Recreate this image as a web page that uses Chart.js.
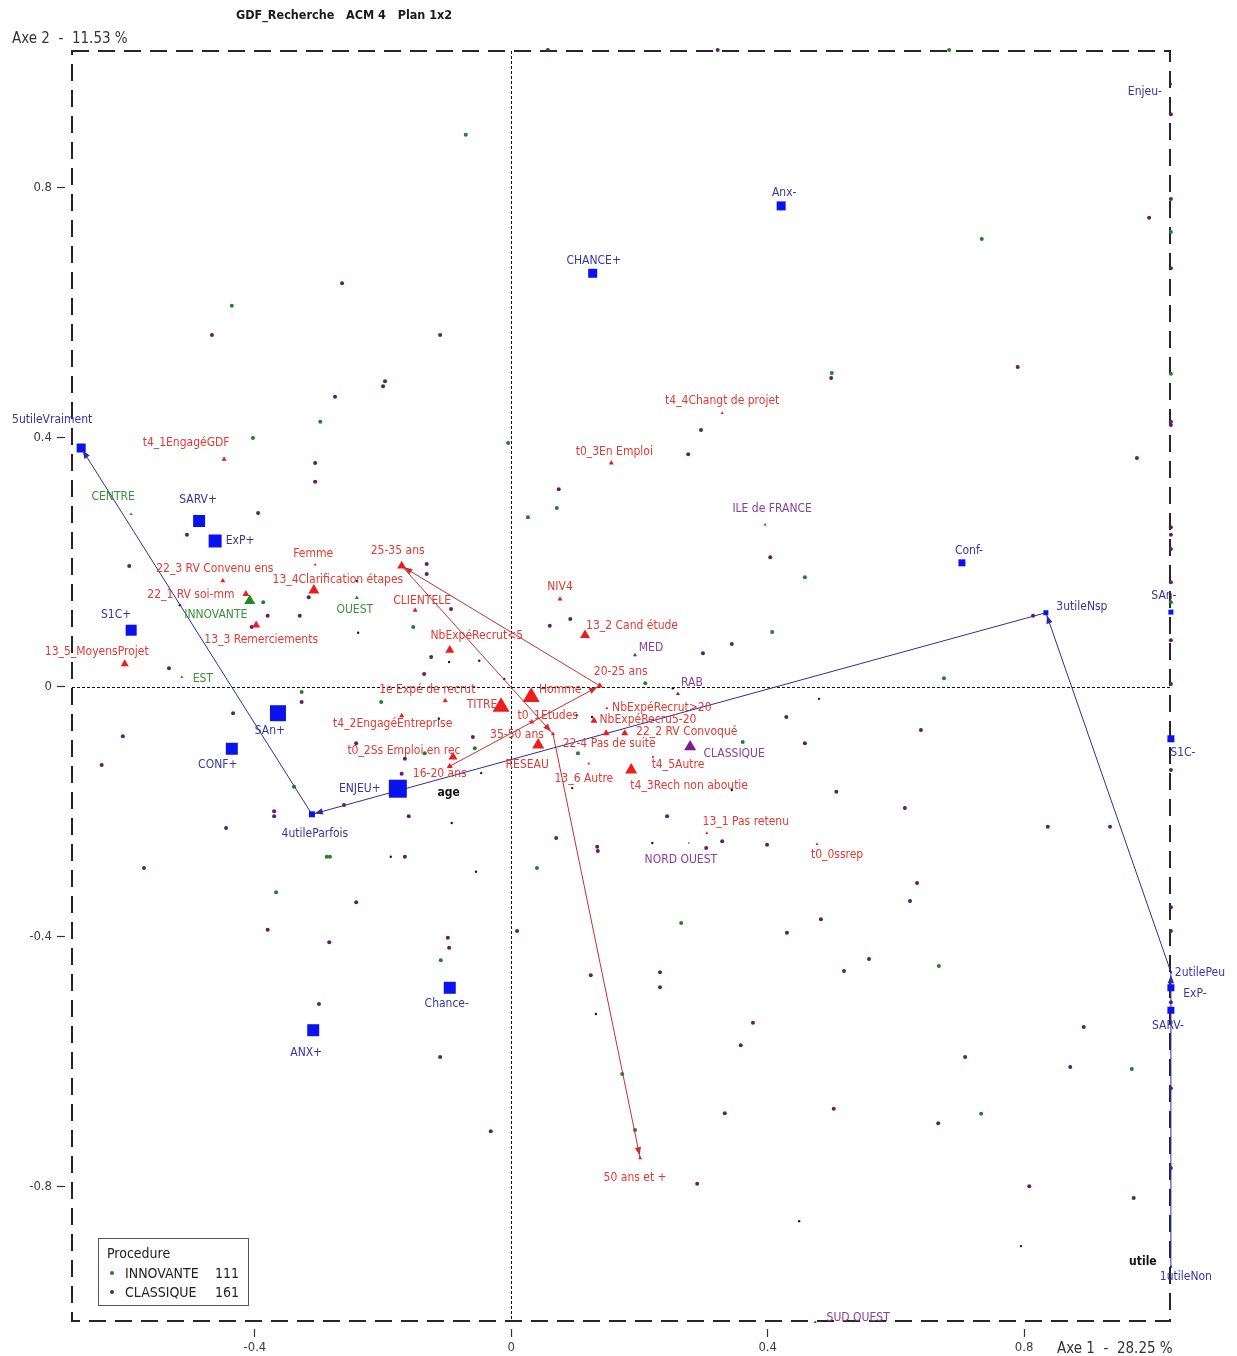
<!DOCTYPE html>
<html><head><meta charset="utf-8">
<script src="https://cdn.jsdelivr.net/npm/chart.js@4.4.1/dist/chart.umd.min.js"></script>
<style>html,body{margin:0;padding:0;background:#fff}#wrap{width:1237px;height:1356px;position:relative}</style>
</head><body><div id="wrap"><canvas id="c"></canvas></div>
<script>
// ---------- DATA ----------
const chartTitle = 'GDF_Recherche   ACM 4   Plan 1x2';
const xAxisName = 'Axe 1  -  28.25 %';
const yAxisName = 'Axe 2  -  11.53 %';
const xTicks = [-0.4, 0, 0.4, 0.8];
const yTicks = [-0.8, -0.4, 0, 0.4, 0.8];
const xRange = [-0.6853, 1.0276];
const yRange = [-1.016, 1.0192];

const legendTitle = 'Procedure';
const legendNames = ['INNOVANTE', 'CLASSIQUE'];
const legendCounts = [111, 161];

// individuals (Axe 1, Axe 2) — points beyond the frame are shown on its edge
const innovante = [
[-0.436,0.611],[-0.298,0.425],[-0.403,0.399],[-0.071,0.885],[-0.005,0.391],[0.683,1.021],[0.734,0.718],[1.029,0.729],[0.500,0.503],[1.029,0.502],
[-0.387,0.136],[-0.153,0.096],[-0.327,-0.008],[-0.203,-0.024],[-0.339,-0.160],[-0.288,-0.272],[-0.283,-0.272],[-0.367,-0.329],[0.071,0.287],[0.026,0.272],
[0.458,0.176],[0.407,0.088],[0.209,0.006],[0.361,-0.088],[-0.057,-0.098],[-0.135,-0.106],[0.104,-0.106],[0.040,-0.290],[1.029,0.136],[0.675,0.014],
[-0.110,-0.438],[0.265,-0.378],[0.173,-0.620],[0.193,-0.710],[0.667,-0.447],[0.968,-0.612],[0.733,-0.684]
];
const classique = [
[-0.264,0.647],[-0.467,0.564],[-0.197,0.490],[-0.200,0.482],[-0.275,0.465],[0.057,1.021],[0.322,1.021],[-0.111,0.564],[0.296,0.412],[0.276,0.373],
[1.029,0.918],[1.029,0.782],[0.995,0.752],[1.029,0.671],[0.499,0.495],[0.790,0.513],[1.029,0.425],[1.029,0.420],[0.976,0.367],
[-0.306,0.359],[-0.306,0.329],[-0.395,0.279],[-0.506,0.244],[-0.596,0.194],[-0.380,0.114],[-0.330,0.114],[-0.405,0.096],[-0.316,0.144],[-0.534,0.030],
[-0.327,-0.024],[-0.434,-0.042],[-0.606,-0.079],[-0.639,-0.125],[-0.242,-0.090],[-0.166,-0.115],[-0.171,-0.139],[-0.261,-0.189],[-0.370,-0.199],[-0.370,-0.207],
[-0.160,-0.207],[-0.445,-0.226],[-0.166,-0.272],[-0.573,-0.290],[-0.242,-0.345],
[-0.132,0.197],[-0.132,0.181],[-0.094,0.125],[-0.125,0.048],[-0.136,0.021],
[0.074,0.317],[0.404,0.208],[0.060,0.098],[0.092,0.109],[0.344,0.069],[0.299,0.054],[0.429,-0.048],[0.458,-0.090],[-0.060,-0.080],
[0.243,-0.207],[0.329,-0.247],[0.304,-0.258],[0.399,-0.253],[0.070,-0.242],[0.134,-0.256],[0.135,-0.263],
[1.029,0.256],[1.029,0.244],[1.029,0.221],[1.029,0.168],[1.029,0.075],[1.029,0.005],[1.029,-0.133],[1.029,-0.353],
[0.814,0.114],[0.639,-0.069],[0.507,-0.168],[0.614,-0.194],[0.837,-0.224],[0.934,-0.224],[0.633,-0.314],[0.622,-0.343],
[-0.380,-0.389],[-0.284,-0.409],[-0.300,-0.508],
[0.009,-0.391],[-0.099,-0.402],[-0.097,-0.418],[0.124,-0.462],[0.232,-0.457],[0.232,-0.481],[0.430,-0.394],[0.483,-0.372],[0.377,-0.538],[0.358,-0.574],
[-0.111,-0.593],[0.333,-0.683],[-0.032,-0.712],[0.290,-0.796],
[1.029,-0.391],[0.558,-0.436],[0.519,-0.455],[1.029,-0.505],[0.893,-0.545],[0.708,-0.593],[0.872,-0.609],[1.029,-0.643],[0.503,-0.676],[0.666,-0.699],
[1.029,-0.771],[0.808,-0.800],[0.971,-0.819]
];
const autres = [
[-0.517,0.131],[-0.241,0.170],[-0.239,0.087],[-0.097,0.040],[-0.050,0.042],[-0.011,0.013],[0.252,-0.002],[0.480,-0.019],[0.126,-0.048],[0.102,-0.045],
[-0.113,-0.051],[-0.047,-0.138],[0.095,-0.162],[0.344,-0.165],[-0.093,-0.218],[-0.188,-0.272],[0.220,-0.250],[-0.055,-0.296],[0.132,-0.524],[0.449,-0.856],[0.795,-0.896]
];

// active categories (blue squares)
const activeNames = ['5utileVraiment','SARV+','ExP+','S1C+','SAn+','CONF+','ENJEU+','4utileParfois','ANX+','Chance-','CHANCE+','Anx-','Conf-','3utileNsp','SAn-','S1C-','2utilePeu','ExP-','SARV-','1utileNon','Enjeu-'];
const activeX = [-0.671,-0.487,-0.462,-0.593,-0.364,-0.436,-0.177,-0.311,-0.309,-0.096,0.127,0.421,0.703,0.834,1.029,1.029,1.029,1.029,1.029,1.029,1.029];
const activeY = [0.383,0.266,0.234,0.091,-0.042,-0.099,-0.163,-0.204,-0.550,-0.482,0.663,0.771,0.199,0.119,0.120,-0.083,-0.457,-0.482,-0.518,-0.929,0.966];

// supplementary categories (red triangles)
const supNames = ['t4_1EngagéGDF','t4_4Changt de projet','t0_3En Emploi','Femme','25-35 ans','22_3 RV Convenu ens','13_4Clarification étapes','22_1 RV soi-mm','NIV4','CLIENTELE','13_2 Cand étude','13_3 Remerciements','13_5_MoyensProjet','NbExpéRecrut<5','20-25 ans','1e Expé de recrut','Homme','TITRE','NbExpéRecrut>20','t0_1Etudes','NbExpéRecru5-20','t4_2EngagéEntreprise','22_2 RV Convoqué','22-4 Pas de suite','35-50 ans','t0_2Ss Emploi en rec','16-20 ans','RESEAU','t4_5Autre','t4_3Rech non aboutie','13_6 Autre','13_1 Pas retenu','t0_0ssrep','50 ans et +'];
const supX = [-0.448,0.329,0.156,-0.306,-0.171,-0.450,-0.308,-0.414,0.076,-0.150,0.115,-0.398,-0.603,-0.096,0.138,-0.103,0.031,-0.016,0.149,0.032,0.129,-0.171,0.177,0.148,0.065,-0.091,-0.096,0.042,0.221,0.187,0.121,0.305,0.477,0.201];
const supY = [0.365,0.439,0.359,0.196,0.194,0.170,0.155,0.149,0.141,0.123,0.083,0.099,0.037,0.059,0.002,-0.022,-0.016,-0.032,-0.034,-0.056,-0.054,-0.046,-0.074,-0.074,-0.075,-0.112,-0.127,-0.093,-0.112,-0.133,-0.123,-0.234,-0.252,-0.755];

// group categories (procedure + region)
const grpInnovNames = ['INNOVANTE','CENTRE','OUEST','EST'];
const grpInnovX = [-0.408,-0.593,-0.241,-0.514];
const grpInnovY = [0.138,0.277,0.143,0.016];
const grpClassNames = ['CLASSIQUE','MED','RAB','ILE de FRANCE','NORD OUEST','SUD OUEST'];
const grpClassX = [0.279,0.193,0.260,0.396,0.277,0.474];
const grpClassY = [-0.096,0.051,-0.011,0.260,-0.250,-1.018];

// trajectories (ordinal variables)
const utilePath = ['1utileNon','2utilePeu','3utileNsp','4utileParfois','5utileVraiment'];
const agePath = ['16-20 ans','20-25 ans','25-35 ans','35-50 ans','50 ans et +'];

// ---------- STYLE / LAYOUT ----------
const FONT = "'DejaVu Sans Condensed','Liberation Sans',Arial,sans-serif";
const C = {
  green:'#23802a', purple:'#651c62', black:'#1a1a1a',
  blue:'#0a12ee', blueText:'#3535a8', blueLine:'#2d2d9e',
  red:'#ee1d1d', redText:'#e03a34', redLine:'#c83030',
  greenTri:'#1e8c1e', greenText:'#3a8f3a',
  purpleTri:'#7d1a8c', purpleText:'#8c3c9c'
};
const markSize = {
 '5utileVraiment':9,'SARV+':12,'ExP+':13,'S1C+':11,'SAn+':16,'CONF+':12,'ENJEU+':18,'4utileParfois':6,'ANX+':12,'Chance-':12,'CHANCE+':9,'Anx-':9,'Conf-':7,'3utileNsp':5,'SAn-':5,'S1C-':7,'2utilePeu':2,'ExP-':7,'SARV-':7,'1utileNon':2,'Enjeu-':2,
 't4_1EngagéGDF':5,'t4_4Changt de projet':3,'t0_3En Emploi':5,'Femme':3,'25-35 ans':9,'22_3 RV Convenu ens':5,'13_4Clarification étapes':11,'22_1 RV soi-mm':7,'NIV4':5,'CLIENTELE':5,'13_2 Cand étude':10,'13_3 Remerciements':8,'13_5_MoyensProjet':8,'NbExpéRecrut<5':9,'20-25 ans':6,'1e Expé de recrut':5,'Homme':17,'TITRE':17,'NbExpéRecrut>20':3,'t0_1Etudes':5,'NbExpéRecru5-20':7,'t4_2EngagéEntreprise':5,'22_2 RV Convoqué':7,'22-4 Pas de suite':7,'35-50 ans':4,'t0_2Ss Emploi en rec':9,'16-20 ans':6,'RESEAU':12,'t4_5Autre':3,'t4_3Rech non aboutie':12,'13_6 Autre':3,'13_1 Pas retenu':3,'t0_0ssrep':3,'50 ans et +':4,
 'INNOVANTE':11,'CENTRE':3,'OUEST':4,'EST':3,'CLASSIQUE':12,'MED':4,'RAB':4,'ILE de FRANCE':3,'NORD OUEST':2,'SUD OUEST':3
};
const labelOffset = {
 '5utileVraiment':[-29,-28],'SARV+':[-1,-21],'ExP+':[25,0],'S1C+':[-15,-15],'SAn+':[-8,18],'CONF+':[-14,16],'ENJEU+':[-38,0],'4utileParfois':[3,20],'ANX+':[-7,23],'Chance-':[-3,16],'CHANCE+':[1,-12],'Anx-':[3,-13],'Conf-':[7,-12],'3utileNsp':[36,-6],'SAn-':[-7,-16],'S1C-':[12,14],'2utilePeu':[29,1],'ExP-':[24,6],'SARV-':[-3,16],'1utileNon':[15,10],'Enjeu-':[-26,8],
 't4_1EngagéGDF':[-38,-16],'t4_4Changt de projet':[0,-12],'t0_3En Emploi':[3,-11],'Femme':[-2,-11],'25-35 ans':[-4,-15],'22_3 RV Convenu ens':[-8,-12],'13_4Clarification étapes':[24,-10],'22_1 RV soi-mm':[-55,1],'NIV4':[0,-12],'CLIENTELE':[7,-9],'13_2 Cand étude':[47,-9],'13_3 Remerciements':[5,15],'13_5_MoyensProjet':[-28,-12],'NbExpéRecrut<5':[27,-14],'20-25 ans':[21,-14],'1e Expé de recrut':[-18,-11],'Homme':[29,-7],'TITRE':[-19,-2],'NbExpéRecrut>20':[55,0],'t0_1Etudes':[16,-6],'NbExpéRecru5-20':[54,-1],'t4_2EngagéEntreprise':[-9,8],'22_2 RV Convoqué':[62,-1],'22-4 Pas de suite':[3,11],'35-50 ans':[-36,1],'t0_2Ss Emploi en rec':[-49,-6],'16-20 ans':[-10,8],'RESEAU':[-11,20],'t4_5Autre':[25,8],'t4_3Rech non aboutie':[58,16],'13_6 Autre':[-5,15],'13_1 Pas retenu':[39,-11],'t0_0ssrep':[20,11],'50 ans et +':[-5,20],
 'INNOVANTE':[-34,14],'CENTRE':[-18,-17],'OUEST':[-2,12],'EST':[21,2],'CLASSIQUE':[44,7],'MED':[16,-7],'RAB':[14,-11],'ILE de FRANCE':[7,-16],'NORD OUEST':[-8,17],'SUD OUEST':[43,-4]
};
const varLabelOffset = {utile:[-28,-5], age:[-1,27]};

// ---------- BUILD ----------
const toPts = (names, xs, ys) => names.map((n,i)=>({x:xs[i], y:ys[i], name:n}));
const activePts = toPts(activeNames, activeX, activeY);
const supPts = toPts(supNames, supX, supY);
const innovPts = toPts(grpInnovNames, grpInnovX, grpInnovY);
const classPts = toPts(grpClassNames, grpClassX, grpClassY);
const allCats = [...activePts, ...supPts, ...innovPts, ...classPts];
const byName = n => allCats.find(p => p.name === n);
const indiv = arr => arr.map(p => ({x:p[0], y:p[1]}));
const sqR = c => (markSize[c.raw && c.raw.name] || 4) / Math.SQRT2;
const triR = c => (markSize[c.raw && c.raw.name] || 4) / Math.sqrt(3);
const fmt = v => v === 0 ? '0' : Number(v).toFixed(1);

function arrow(ctx, p, q, color){
  const dx=q.x-p.x, dy=q.y-p.y, L=Math.hypot(dx,dy); if(!L) return;
  const ux=dx/L, uy=dy/L, tx=q.x-ux*3, ty=q.y-uy*3, len=8, hw=3.2;
  ctx.fillStyle=color; ctx.beginPath();
  ctx.moveTo(tx,ty);
  ctx.lineTo(tx-ux*len-uy*hw, ty-uy*len+ux*hw);
  ctx.lineTo(tx-ux*len+uy*hw, ty-uy*len-ux*hw);
  ctx.closePath(); ctx.fill();
}

const mcaPlugin = {
  id:'mca',
  beforeDatasetsDraw(chart){
    const {ctx, chartArea:a, scales:{x,y}} = chart;
    ctx.save();
    ctx.strokeStyle='#111'; ctx.lineWidth=1; ctx.setLineDash([3,2]);
    const x0=Math.round(x.getPixelForValue(0))+0.5, y0=Math.round(y.getPixelForValue(0))+0.5;
    ctx.beginPath(); ctx.moveTo(x0,a.top); ctx.lineTo(x0,a.bottom); ctx.moveTo(a.left,y0); ctx.lineTo(a.right,y0); ctx.stroke();
    ctx.strokeStyle='#262626'; ctx.lineWidth=2; ctx.setLineDash([17,9]);
    ctx.strokeRect(a.left,a.top,a.right-a.left,a.bottom-a.top);
    ctx.restore();
  },
  afterDatasetsDraw(chart){
    const {ctx, scales:{x,y}} = chart;
    const pix = p => ({x:x.getPixelForValue(p.x), y:y.getPixelForValue(p.y)});
    ctx.save();
    [[utilePath,C.blueLine],[agePath,C.redLine]].forEach(([path,col])=>{
      for(let i=1;i<path.length;i++) arrow(ctx, pix(byName(path[i-1])), pix(byName(path[i])), col);
    });
    ctx.font = '12px '+FONT; ctx.textAlign='center'; ctx.textBaseline='middle';
    const lab = (set,col) => { ctx.fillStyle=col; set.forEach(p=>{ const q=pix(p), o=labelOffset[p.name]||[0,-12]; ctx.fillText(p.name, q.x+o[0], q.y+o[1]); }); };
    lab(activePts, C.blueText); lab(supPts, C.redText); lab(innovPts, C.greenText); lab(classPts, C.purpleText);
    ctx.font = 'bold 12px '+FONT; ctx.fillStyle='#111';
    [['utile',utilePath[0]],['age',agePath[0]]].forEach(([t,n])=>{ const q=pix(byName(n)), o=varLabelOffset[t]; ctx.fillText(t, q.x+o[0], q.y+o[1]); });
    ctx.restore();
  },
  afterDraw(chart){
    const {ctx} = chart;
    ctx.save();
    ctx.textBaseline='alphabetic'; ctx.textAlign='left';
    ctx.fillStyle='#1a1a1a'; ctx.font='bold 12.5px '+FONT; ctx.fillText(chartTitle, 236, 19);
    ctx.fillStyle='#333'; ctx.font='15px '+FONT; ctx.fillText(yAxisName, 12, 43); ctx.fillText(xAxisName, 1057, 1353);
    // legend
    ctx.fillStyle='#fff'; ctx.fillRect(98.5,1238.5,150,67);
    ctx.strokeStyle='#555'; ctx.lineWidth=1; ctx.strokeRect(98.5,1238.5,150,67);
    ctx.fillStyle='#222'; ctx.font='14px '+FONT; ctx.fillText(legendTitle, 107, 1258);
    [C.green, C.purple].forEach((col,i)=>{
      const by = 1278 + i*19;
      ctx.fillStyle=col; ctx.beginPath(); ctx.arc(112, by-5, 2, 0, Math.PI*2); ctx.fill();
      ctx.fillStyle='#222'; ctx.textAlign='left'; ctx.fillText(legendNames[i], 125, by);
      ctx.textAlign='right'; ctx.fillText(String(legendCounts[i]), 239, by);
    });
    ctx.restore();
  }
};

new Chart(document.getElementById('c'), {
  type:'scatter',
  data:{datasets:[
    {label:'INNOVANTE', data:indiv(innovante), pointRadius:2, backgroundColor:C.green, borderWidth:0, order:6, clip:false},
    {label:'CLASSIQUE', data:indiv(classique), pointRadius:2, backgroundColor:C.purple, borderWidth:0, order:6, clip:false},
    {label:'autres', data:indiv(autres), pointRadius:1.2, backgroundColor:C.black, borderWidth:0, order:6, clip:false},
    {label:'utile', data:utilePath.map(n=>({x:byName(n).x, y:byName(n).y})), showLine:true, pointRadius:0, borderColor:C.blueLine, borderWidth:1, order:5, clip:false},
    {label:'age', data:agePath.map(n=>({x:byName(n).x, y:byName(n).y})), showLine:true, pointRadius:0, borderColor:C.redLine, borderWidth:1, order:5, clip:false},
    {label:'actives', data:activePts, pointStyle:'rect', pointRadius:sqR, backgroundColor:C.blue, borderWidth:0, order:2, clip:false},
    {label:'supplementaires', data:supPts, pointStyle:'triangle', pointRadius:triR, backgroundColor:C.red, borderWidth:0, order:1, clip:false},
    {label:'groupe innovante', data:innovPts, pointStyle:'triangle', pointRadius:triR, backgroundColor:C.greenTri, borderWidth:0, order:1, clip:false},
    {label:'groupe classique', data:classPts, pointStyle:'triangle', pointRadius:triR, backgroundColor:C.purpleTri, borderWidth:0, order:1, clip:false}
  ]},
  options:{
    responsive:true, maintainAspectRatio:false, animation:false, devicePixelRatio:1, events:[],
    layout:{padding:{top:51, right:67, left:0, bottom:0}},
    plugins:{legend:{display:false}, tooltip:{enabled:false}},
    elements:{point:{hoverRadius:0}},
    scales:{
      x:{type:'linear', position:'bottom', min:xRange[0], max:xRange[1],
        afterBuildTicks:s=>{ s.ticks = xTicks.map(v=>({value:v})); },
        afterFit:s=>{ s.height = 35; },
        ticks:{callback:v=>fmt(v), font:{family:FONT, size:13}, color:'#3c3c3c', padding:3, maxRotation:0, autoSkip:false},
        grid:{drawOnChartArea:false, drawTicks:true, tickLength:16, tickColor:'#333', tickWidth:1.2, tickBorderDash:[0,8,8,0]},
        border:{display:false}
      },
      y:{type:'linear', position:'left', min:yRange[0], max:yRange[1],
        afterBuildTicks:s=>{ s.ticks = yTicks.map(v=>({value:v})); },
        afterFit:s=>{ s.width = 72; },
        ticks:{callback:v=>fmt(v), font:{family:FONT, size:13}, color:'#3c3c3c', padding:5, autoSkip:false},
        grid:{drawOnChartArea:false, drawTicks:true, tickLength:15, tickColor:'#333', tickWidth:1.2, tickBorderDash:[8,20]},
        border:{display:false}
      }
    }
  },
  plugins:[mcaPlugin]
});
</script>
</body></html>
